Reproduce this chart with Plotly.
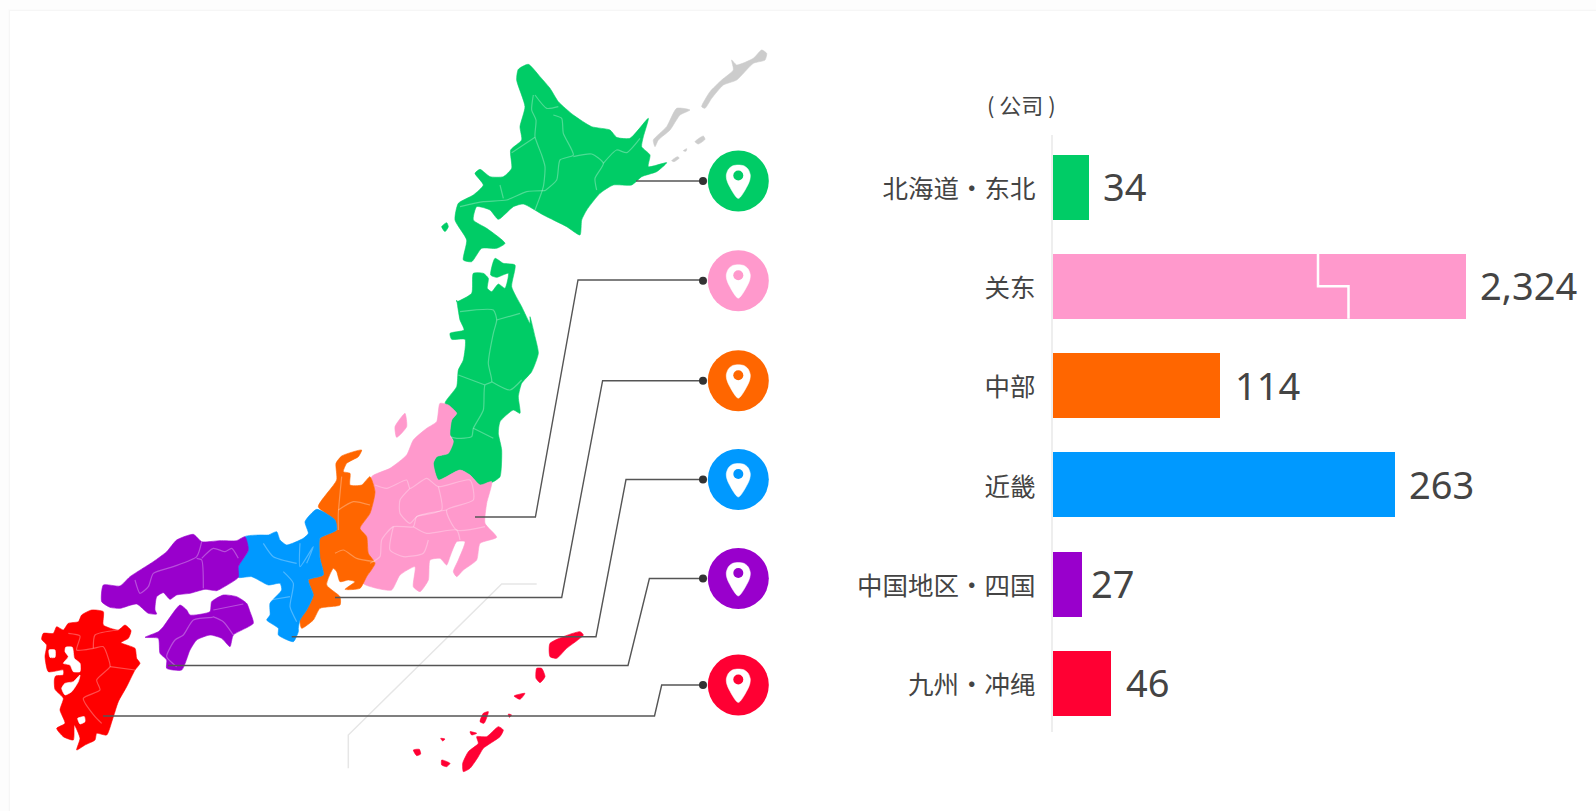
import plotly.graph_objects as go

# ---------- bar chart data ----------
categories = ["北海道・东北", "关东", "中部", "近畿", "中国地区・四国", "九州・冲绳"]
company_counts = [34, 2324, 114, 263, 27, 46]
value_labels = ["34", "2,324", "114", "263", "27", "46"]
# the reference's bars are not on a linear scale, so the drawn lengths are read separately
bar_lengths = [35.7, 412.5, 167, 341.5, 28.5, 58]
label_gaps = [13, 13, 13, 13, 8, 13]
bar_colors = ["#00cc66", "#ff99cc", "#ff6600", "#0099ff", "#9900cc", "#ff0033"]
unit_label = "( 公司 )"

Z1, Z2, Z3, Z4, Z5 = (400, 30), (300, 300), (20, 500), (320, 560), (35, 600)


def crop(origin, pts):
    return [(origin[0] + a / 3, origin[1] + b / 3) for a, b in pts]


hokkaido = crop(Z1, [(385,103),(420,140),(450,175),(475,215),(520,255),(575,290),(630,300),(650,322),(690,325),(745,265),(730,320),(725,350),(750,375),(745,410),(800,398),(770,425),(725,440),(695,465),(640,465),(600,490),(560,540),(545,570),(540,615),(500,590),(430,555),(370,522),(340,530),(295,568),(270,540),(230,530),(220,570),(260,595),(315,640),(290,655),(245,655),(215,695),(190,690),(200,630),(165,570),(175,520),(220,495),(250,465),(225,430),(240,418),(270,440),(310,440),(335,415),(332,360),(365,330),(360,290),(375,230),(350,150),(355,118)])
rishiri = crop(Z1, [(125,590),(140,578),(145,590),(135,605)])
tohoku = crop(Z1, [(170,815),(215,790),(220,730),(250,730),(265,745),(262,775),(275,785),(295,762),(315,775),(325,730),(290,742),(272,735),(285,685),(310,700),(345,705),(335,770),(365,830),(390,880)]) + crop(Z2, [(690,50),(705,110),(715,160),(695,215),(665,250),(655,290),(660,340),(640,330),(600,365),(595,400),(605,450),(600,530),(580,545),(540,555),(510,525),(480,510),(415,540),(400,490),(410,470),(445,460),(460,420),(450,405),(455,360),(470,340),(435,310),(470,260),(475,210),(490,180),(495,118),(455,118),(450,100),(492,90),(480,60),(470,0)])
kanto = crop(Z2, [(420,310),(445,315),(470,340),(455,360),(450,405),(460,425),(445,460),(410,470),(400,490),(415,540),(480,510),(510,525),(540,555),(575,545),(560,610),(555,670),(590,712),(540,730),(530,780),(490,810),(470,830),(460,815),(475,780),(495,725),(470,725),(450,770),(440,795),(420,775),(390,780),(385,840),(360,875),(340,860),(345,800),(300,825),(275,870),(230,865),(190,850),(225,790),(205,760),(200,710),(180,685),(210,640),(225,575),(215,530),(270,505),(320,465),(340,420),(380,385),(410,365)])
sado = crop(Z2, [(315,340),(320,380),(290,412),(285,380),(305,350)])
chubu = crop(Z2, [(55,620),(110,540),(108,490),(125,468),(185,450),(175,470),(140,490),(130,515),(150,520),(150,555),(185,555),(210,530),(225,575),(210,640),(180,685),(200,710),(205,760),(225,790),(200,830),(180,865),(135,868),(165,845),(145,840),(120,845),(110,815),(100,805),(80,855),(120,890),(120,915),(60,925),(40,960),(5,985),(0,960),(20,930),(40,885),(25,840),(70,825),(60,775),(60,715),(110,690),(105,660)])
kinki = crop(Z3, [(675,110),(720,105),(745,105),(770,95),(780,120),(800,135),(850,115),(865,100)]) + crop(Z2, [(15,665),(50,628),(105,660),(110,690),(60,715),(60,775),(70,825),(25,840),(40,885),(20,930),(0,960),(-5,985)]) + crop(Z3, [(835,395),(820,425),(775,405),(775,385),(740,360),(750,345),(750,310),(785,270),(780,250),(745,255),(695,230),(655,232),(655,200),(685,150)])
chugoku = crop(Z3, [(675,110),(685,150),(655,200),(655,232),(610,262),(590,272),(555,268),(510,280),(470,285),(450,298),(430,278),(410,290),(405,330),(410,342),(385,340),(350,312),(300,325),(270,322),(245,305),(250,255),(300,258),(330,230),(400,185),(440,155),(470,120),(520,103),(545,125),(600,122),(650,122)])
shikoku = crop(Z3, [(375,412),(415,395),(430,380),(480,315),(500,330),(510,345),(570,335),(575,305),(610,285),(650,290),(680,310),(690,335),(700,370),(640,405),(630,440),(605,415),(570,405),(530,420),(510,450),(485,510),(440,505),(440,480),(420,460),(415,415)])
kyushu = crop(Z5, [(140,45),(170,30),(205,35),(205,75),(250,90),(270,75),(288,92),(280,115),(258,128),(300,145),(305,175),(315,190),(300,210),(275,260),(250,305),(232,360),(215,405),(185,400),(180,420),(150,435),(125,450),(135,415),(118,375),(115,420),(85,410),(65,385),(90,370),(75,330),(85,295),(60,268),(58,240),(62,228),(85,225),(85,210),(40,215),(30,170),(35,135),(20,118),(25,100),(55,100),(65,80),(85,90),(100,70),(130,65)])
kyushu_seas = [crop(Z5, [(92,142),(112,142),(118,175),(135,190),(135,215),(115,215),(105,195),(85,190),(100,170),(90,155)]),
               crop(Z5, [(135,225),(115,245),(90,250),(80,265),(90,285),(110,275),(130,245)]),
               crop(Z5, [(42,150),(60,150),(60,172),(45,172)]),
               crop(Z5, [(128,355),(148,350),(150,365),(135,372)])]
ryukyu = [crop(Z4, p) for p in [
    [(690,250),(780,215),(790,225),(740,265),(710,295),(690,290)],
    [(650,325),(665,325),(675,350),(660,368),(648,355)],
    [(582,408),(615,400),(600,418)],
    [(490,460),(505,455),(492,490),(480,485)],
    [(535,500),(550,510),(540,530),(490,565),(475,590),(450,625),(430,635),(428,610),(445,575),(475,550),(470,530),(500,530)],
    [(280,570),(298,568),(302,582),(290,587)],
    [(365,600),(390,610),(380,620),(365,615)],
    [(450,515),(470,520),(455,525)],
    [(362,535),(375,537),(368,543)],
    [(565,462),(575,465),(568,472)]]]
kuriles = [crop(Z1, p) for p in [
    [(905,230),(930,185),(965,150),(1000,120),(995,90),(1010,105),(1060,85),(1085,60),(1100,70),(1095,90),(1060,100),(1010,150),(970,165),(935,205),(915,235)],
    [(765,350),(760,330),(800,290),(830,235),(870,240),(840,255),(810,300),(775,330)],
    [(885,335),(910,318),(915,328),(895,342)],
    [(815,392),(832,380),(838,384),(822,395)],
    [(850,362),(860,356),(858,364)]]]

map_regions = [
    (hokkaido, "#00cc66"), (rishiri, "#00cc66"), (tohoku, "#00cc66"),
    (kanto, "#ff99cc"), (sado, "#ff99cc"), (chubu, "#ff6600"), (kinki, "#0099ff"),
    (chugoku, "#9900cc"), (shikoku, "#9900cc"), (kyushu, "#ff0000"),
] + [(p, "#ff0033") for p in ryukyu] + [(p, "#cccccc") for p in kuriles] + [(p, "#ffffff") for p in kyushu_seas]

prefecture_borders = [
    crop(Z1, p) for p in [
        [(400,195),(395,240),(408,270),(405,320),(425,375),(435,410),(430,470),(405,540)],
        [(405,195),(440,235),(475,230)],
        [(460,255),(485,265),(490,310),(520,375),(480,390),(470,450),(435,482)],
        [(520,380),(575,372),(610,400),(585,445),(590,480)],
        [(610,400),(650,360),(680,368),(720,325)],
        [(335,368),(405,322)],
        [(180,530),(250,515),(320,510),(380,485),(435,482)],
        [(300,465),(310,505)]]
] + [
    crop(Z2, p) for p in [
        [(480,35),(580,30),(590,60),(580,100),(565,190),(575,245),(555,255),(550,330),(520,385),(515,410),(470,415),(450,410)],
        [(590,60),(660,40)], [(475,225),(555,255)], [(575,245),(630,270),(665,240)], [(520,385),(580,415)],
        [(225,555),(260,565),(320,540),(330,565),(380,535),(415,560),(510,540),(520,600),(440,630),(470,690),(555,680)],
        [(415,560),(425,630),(350,650),(330,670),(300,640),(300,600),(330,565)],
        [(440,630),(350,650),(340,680),(280,680),(245,720),(240,770),(210,790)],
        [(340,680),(380,700),(470,690),(480,720)],
        [(280,680),(270,750),(310,770),(370,760),(385,720)],
        [(125,530),(115,640),(115,690)], [(115,630),(160,605),(210,615)],
        [(105,760),(130,750),(170,775),(225,785)]]
] + [
    crop(Z3, p) for p in [
        [(545,125),(530,170),(460,200),(400,220),(385,260),(360,280),(345,240)],
        [(530,175),(545,180),(550,265)], [(545,175),(580,145),(615,155),(635,145),(655,175)],
        [(580,330),(670,312)], [(578,350),(610,365),(640,405)],
        [(578,352),(520,360),(490,405),(465,420),(440,470),(470,500)],
        [(730,130),(760,170),(830,190)], [(790,215),(820,250),(810,320),(830,365)],
        [(750,300),(810,290)], [(840,130),(840,200),(880,140),(860,190)]]
] + [
    crop(Z5, p) for p in [
        [(100,100),(135,108),(125,150),(175,145),(205,140),(220,175),(225,200),(185,240),(195,270),(145,295),(180,350),(200,370)],
        [(225,200),(300,210)], [(175,145),(180,105),(250,90)]]
]

leader_lines = [
    [(636, 181), (703, 181)],
    [(475, 517), (535.4, 517), (578, 280), (703, 280)],
    [(335, 597.5), (561.7, 597.5), (602.6, 380.7), (703, 380.7)],
    [(291.7, 636.7), (596, 636.7), (626, 479.5), (703, 479.5)],
    [(168, 665.5), (628, 665.5), (649.4, 578.5), (703, 578.5)],
    [(103, 716), (654.5, 716), (661.7, 685), (703, 685)],
]
faint_line = [(348.3, 768.3), (348.3, 735), (501.7, 584), (536.7, 584)]
pin_x = 738.3
pin_rows = [181, 280.7, 380.7, 479.5, 578.5, 685]
pin_outline = [(0,-16),(6,-15),(10,-11.5),(12,-6),(11.5,-1),(9,5),(0,17.5),(-9,5),(-11.5,-1),(-12,-6),(-10,-11.5),(-6,-15)]
break_x = [265.5, 265.5, 296, 296]
break_y = [0.672, 1.0, 1.0, 1.328]

fig = go.Figure()


def poly(points, color):
    fig.add_trace(go.Scatter(
        x=[p[0] for p in points] + [points[0][0]], y=[p[1] for p in points] + [points[0][1]],
        mode="lines", fill="toself", fillcolor=color,
        line=dict(color=color, width=0.6, shape="spline", smoothing=0.55),
        hoverinfo="skip", showlegend=False))


def polyline(points, color, width, smooth=0.0):
    line = dict(color=color, width=width)
    if smooth:
        line.update(shape="spline", smoothing=smooth)
    fig.add_trace(go.Scatter(
        x=[p[0] for p in points], y=[p[1] for p in points], mode="lines",
        line=line, hoverinfo="skip", showlegend=False))


polyline(faint_line, "#e6e6e6", 1.5)
for pts, col in map_regions:
    poly(pts, col)
for pts in prefecture_borders:
    polyline(pts, "rgba(255,255,255,0.3)", 1.2, 0.6)
for pts in leader_lines:
    polyline(pts, "#555555", 1.4)

# end dots, badges and pins
fig.add_trace(go.Scatter(
    x=[703] * 6, y=pin_rows, mode="markers", marker=dict(size=8, color="#333333"),
    hoverinfo="skip", showlegend=False))
fig.add_trace(go.Scatter(
    x=[pin_x] * 6, y=pin_rows, mode="markers",
    marker=dict(size=61, color=bar_colors, line=dict(width=0)),
    hoverinfo="skip", showlegend=False))
for row in pin_rows:
    fig.add_trace(go.Scatter(
        x=[pin_x + a for a, b in pin_outline] + [pin_x + pin_outline[0][0]],
        y=[row + b for a, b in pin_outline] + [row + pin_outline[0][1]],
        mode="lines", fill="toself", fillcolor="#ffffff",
        line=dict(color="#ffffff", width=0.5, shape="spline", smoothing=0.8),
        hoverinfo="skip", showlegend=False))
fig.add_trace(go.Scatter(
    x=[pin_x] * 6, y=[r - 5.5 for r in pin_rows], mode="markers",
    marker=dict(size=10, color=bar_colors, line=dict(width=0)),
    hoverinfo="skip", showlegend=False))

# bars
positions = list(range(len(categories)))
fig.add_trace(go.Bar(
    x=bar_lengths, y=positions, orientation="h", width=0.655,
    marker=dict(color=bar_colors, line=dict(width=0)),
    customdata=company_counts, hovertemplate="%{customdata}<extra></extra>",
    xaxis="x2", yaxis="y2", showlegend=False))
fig.add_trace(go.Scatter(
    x=break_x, y=break_y, mode="lines", line=dict(color="#ffffff", width=2.5),
    xaxis="x2", yaxis="y2", hoverinfo="skip", showlegend=False))

for pos, length, label, gap in zip(positions, bar_lengths, value_labels, label_gaps):
    fig.add_annotation(
        x=length, y=pos, xref="x2", yref="y2", text=label, showarrow=False,
        xanchor="left", yanchor="middle", xshift=gap, yshift=1,
        font=dict(family="Noto Sans, Noto Sans CJK SC", size=38, color="#444444"))
fig.add_annotation(
    x=1021, y=104, xref="x", yref="y", text=unit_label, showarrow=False,
    font=dict(family="Noto Sans CJK SC", size=22, color="#444444"))

W, H = 1596, 811
card = [("#fbfbfb", 8, 9), ("#f6f6f6", 9, 10), ("#ffffff", 10, 11)]
shapes = [dict(type="rect", xref="paper", yref="paper", x0=x / W, x1=1, y0=0, y1=1 - y / H,
               fillcolor=c, line=dict(width=0), layer="below") for c, x, y in card]

fig.update_layout(
    width=W, height=H, margin=dict(l=0, r=0, t=0, b=0),
    paper_bgcolor="#fdfdfd", plot_bgcolor="rgba(0,0,0,0)",
    shapes=shapes, bargap=0, showlegend=False,
    xaxis=dict(domain=[0, 1], range=[0, W], visible=False, fixedrange=True),
    yaxis=dict(domain=[0, 1], range=[H, 0], visible=False, fixedrange=True),
    xaxis2=dict(domain=[1052.5 / W, 1], range=[0, W - 1052.5], anchor="y2", visible=False, fixedrange=True),
    yaxis2=dict(domain=[1 - 732 / H, 1 - 135 / H], range=[5.49, -0.524], anchor="x2",
                tickmode="array", tickvals=[p + 0.02 for p in positions], ticktext=categories,
                showgrid=False, zeroline=False, showline=True, linecolor="#eeeeee", linewidth=2,
                ticks="outside", ticklen=10, tickcolor="rgba(0,0,0,0)",
                tickfont=dict(family="Noto Sans CJK SC", size=25.5, color="#444444"),
                fixedrange=True),
)
fig.write_html("out.html", config={"displayModeBar": False},
               post_script="document.body.style.margin='0';document.documentElement.style.overflow='hidden';")
